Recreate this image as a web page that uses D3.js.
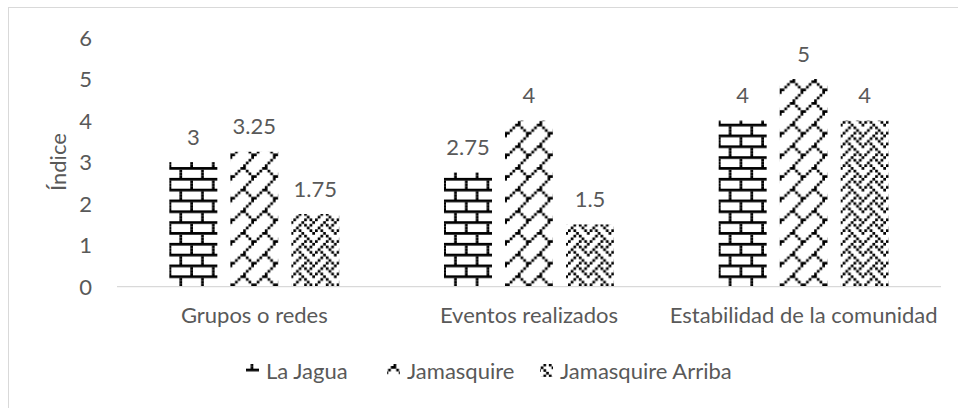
<!DOCTYPE html>
<html><head><meta charset="utf-8">
<script src="https://cdn.jsdelivr.net/npm/d3@7/dist/d3.min.js"></script>
<style>
body{margin:0;background:#fff}
svg{display:block}
text{font-family:Lato,'Open Sans',sans-serif;fill:#595959}
</style>
</head><body>
<svg id="chart" width="958" height="408"></svg>
<script>
const categories = ["Grupos o redes", "Eventos realizados", "Estabilidad de la comunidad"];
const seriesNames = ["La Jagua", "Jamasquire", "Jamasquire Arriba"];
const laJagua = [3, 2.75, 4];
const jamasquire = [3.25, 4, 5];
const jamasquireArriba = [1.75, 1.5, 4];
const yTicks = [0, 1, 2, 3, 4, 5, 6];
const yTitle = "Índice";

// 8x8 pattern bitmaps (1 = black)
const brickBits = ["11111111","00000001","00000001","00000001","11111111","00010000","00010000","00010000"];
const diagBrickBits = ["00000001","00000010","00000100","00001000","00011000","00100100","01000010","10000001"];
const weaveBits = ["00010001","00101010","01000100","10100010","00010001","00101000","01000100","10001010"];

const seriesValues = [laJagua, jamasquire, jamasquireArriba];
const bitmaps = [brickBits, diagBrickBits, weaveBits];

const W = 958, H = 408;
const svg = d3.select("#chart");
const defs = svg.append("defs");
const FS = 22;

const x0 = d3.scaleBand().domain(categories).range([117, 941]);
const band = x0.bandwidth();
const groupW = band * 0.619;
const x1 = d3.scaleBand().domain(seriesNames)
  .range([(band - groupW) / 2, (band + groupW) / 2])
  .paddingInner(0.213).paddingOuter(0);
const y = d3.scaleLinear().domain([0, 6]).range([286.7, 37.5]);

const px = 2.708, tile = px * 8;

function makePattern(id, bits, ox, oy) {
  const p = defs.append("pattern").attr("id", id)
    .attr("patternUnits", "userSpaceOnUse")
    .attr("x", ox).attr("y", oy).attr("width", tile).attr("height", tile);
  p.append("rect").attr("width", tile).attr("height", tile).attr("fill", "#fff");
  bits.forEach((row, r) => {
    let c = 0;
    while (c < 8) {
      if (row[c] === "1") {
        let e = c;
        while (e < 8 && row[e] === "1") e++;
        p.append("rect").attr("x", c * px).attr("y", r * px)
          .attr("width", (e - c) * px).attr("height", px).attr("fill", "#000");
        c = e;
      } else c++;
    }
  });
  return "url(#" + id + ")";
}

// border
svg.append("rect").attr("x", 8.5).attr("y", 7.5).attr("width", W + 10).attr("height", H + 10)
  .attr("fill", "none").attr("stroke", "#d9d9d9").attr("stroke-width", 1);

// bars
const gBars = svg.append("g");
categories.forEach((cat, ci) => {
  seriesNames.forEach((s, si) => {
    const v = seriesValues[si][ci];
    const bx = x0(cat) + x1(s);
    const fill = makePattern("p" + si + "_" + ci, bitmaps[si], bx + 2, y(0) - tile - 0.5);
    gBars.append("rect").attr("x", bx).attr("y", y(v))
      .attr("width", x1.bandwidth()).attr("height", y(0) - y(v)).attr("fill", fill);
    gBars.append("text").attr("x", bx + x1.bandwidth() / 2).attr("y", y(v) - 17.5)
      .attr("text-anchor", "middle").attr("font-size", FS).text(String(v));
  });
});

// x axis line
svg.append("line").attr("x1", 117).attr("x2", 941).attr("y1", y(0)).attr("y2", y(0))
  .attr("stroke", "#d9d9d9").attr("stroke-width", 1.3);

// category labels
const xAxis = d3.axisBottom(x0).tickSize(0).tickPadding(0);
const gx = svg.append("g").attr("transform", "translate(0," + y(0) + ")").call(xAxis);
gx.select(".domain").remove();
gx.selectAll("text").attr("font-size", FS).attr("dy", null).attr("y", 36)
  .style("font-family", "Lato,'Open Sans',sans-serif").attr("fill", "#595959");

// y axis labels
const yAxis = d3.axisLeft(y).tickValues(yTicks).tickFormat(d3.format("d")).tickSize(0).tickPadding(25);
const gy = svg.append("g").attr("transform", "translate(117,0)").call(yAxis);
gy.select(".domain").remove();
gy.selectAll("text").attr("font-size", FS).attr("dy", "0.35em")
  .style("font-family", "Lato,'Open Sans',sans-serif").attr("fill", "#595959");

// y title
svg.append("text").attr("transform", "translate(66," + ((y(0) + y(6)) / 2) + ") rotate(-90)")
  .attr("text-anchor", "middle").attr("font-size", FS).text(yTitle);

// legend
const legX = [266, 407, 560];
const legY = 379;
const keyOrigins = [[-3.5, 4.65], [-4.3, -8.8], [-2, -3]];
seriesNames.forEach((s, si) => {
  const kx = legX[si] - 20, ky = 364;
  const fill = makePattern("leg" + si, bitmaps[si], kx + keyOrigins[si][0], ky + keyOrigins[si][1]);
  svg.append("rect").attr("x", kx).attr("y", ky).attr("width", 13).attr("height", 13).attr("fill", fill);
  svg.append("text").attr("x", legX[si]).attr("y", legY).attr("font-size", FS).text(s);
});
</script>
</body></html>
